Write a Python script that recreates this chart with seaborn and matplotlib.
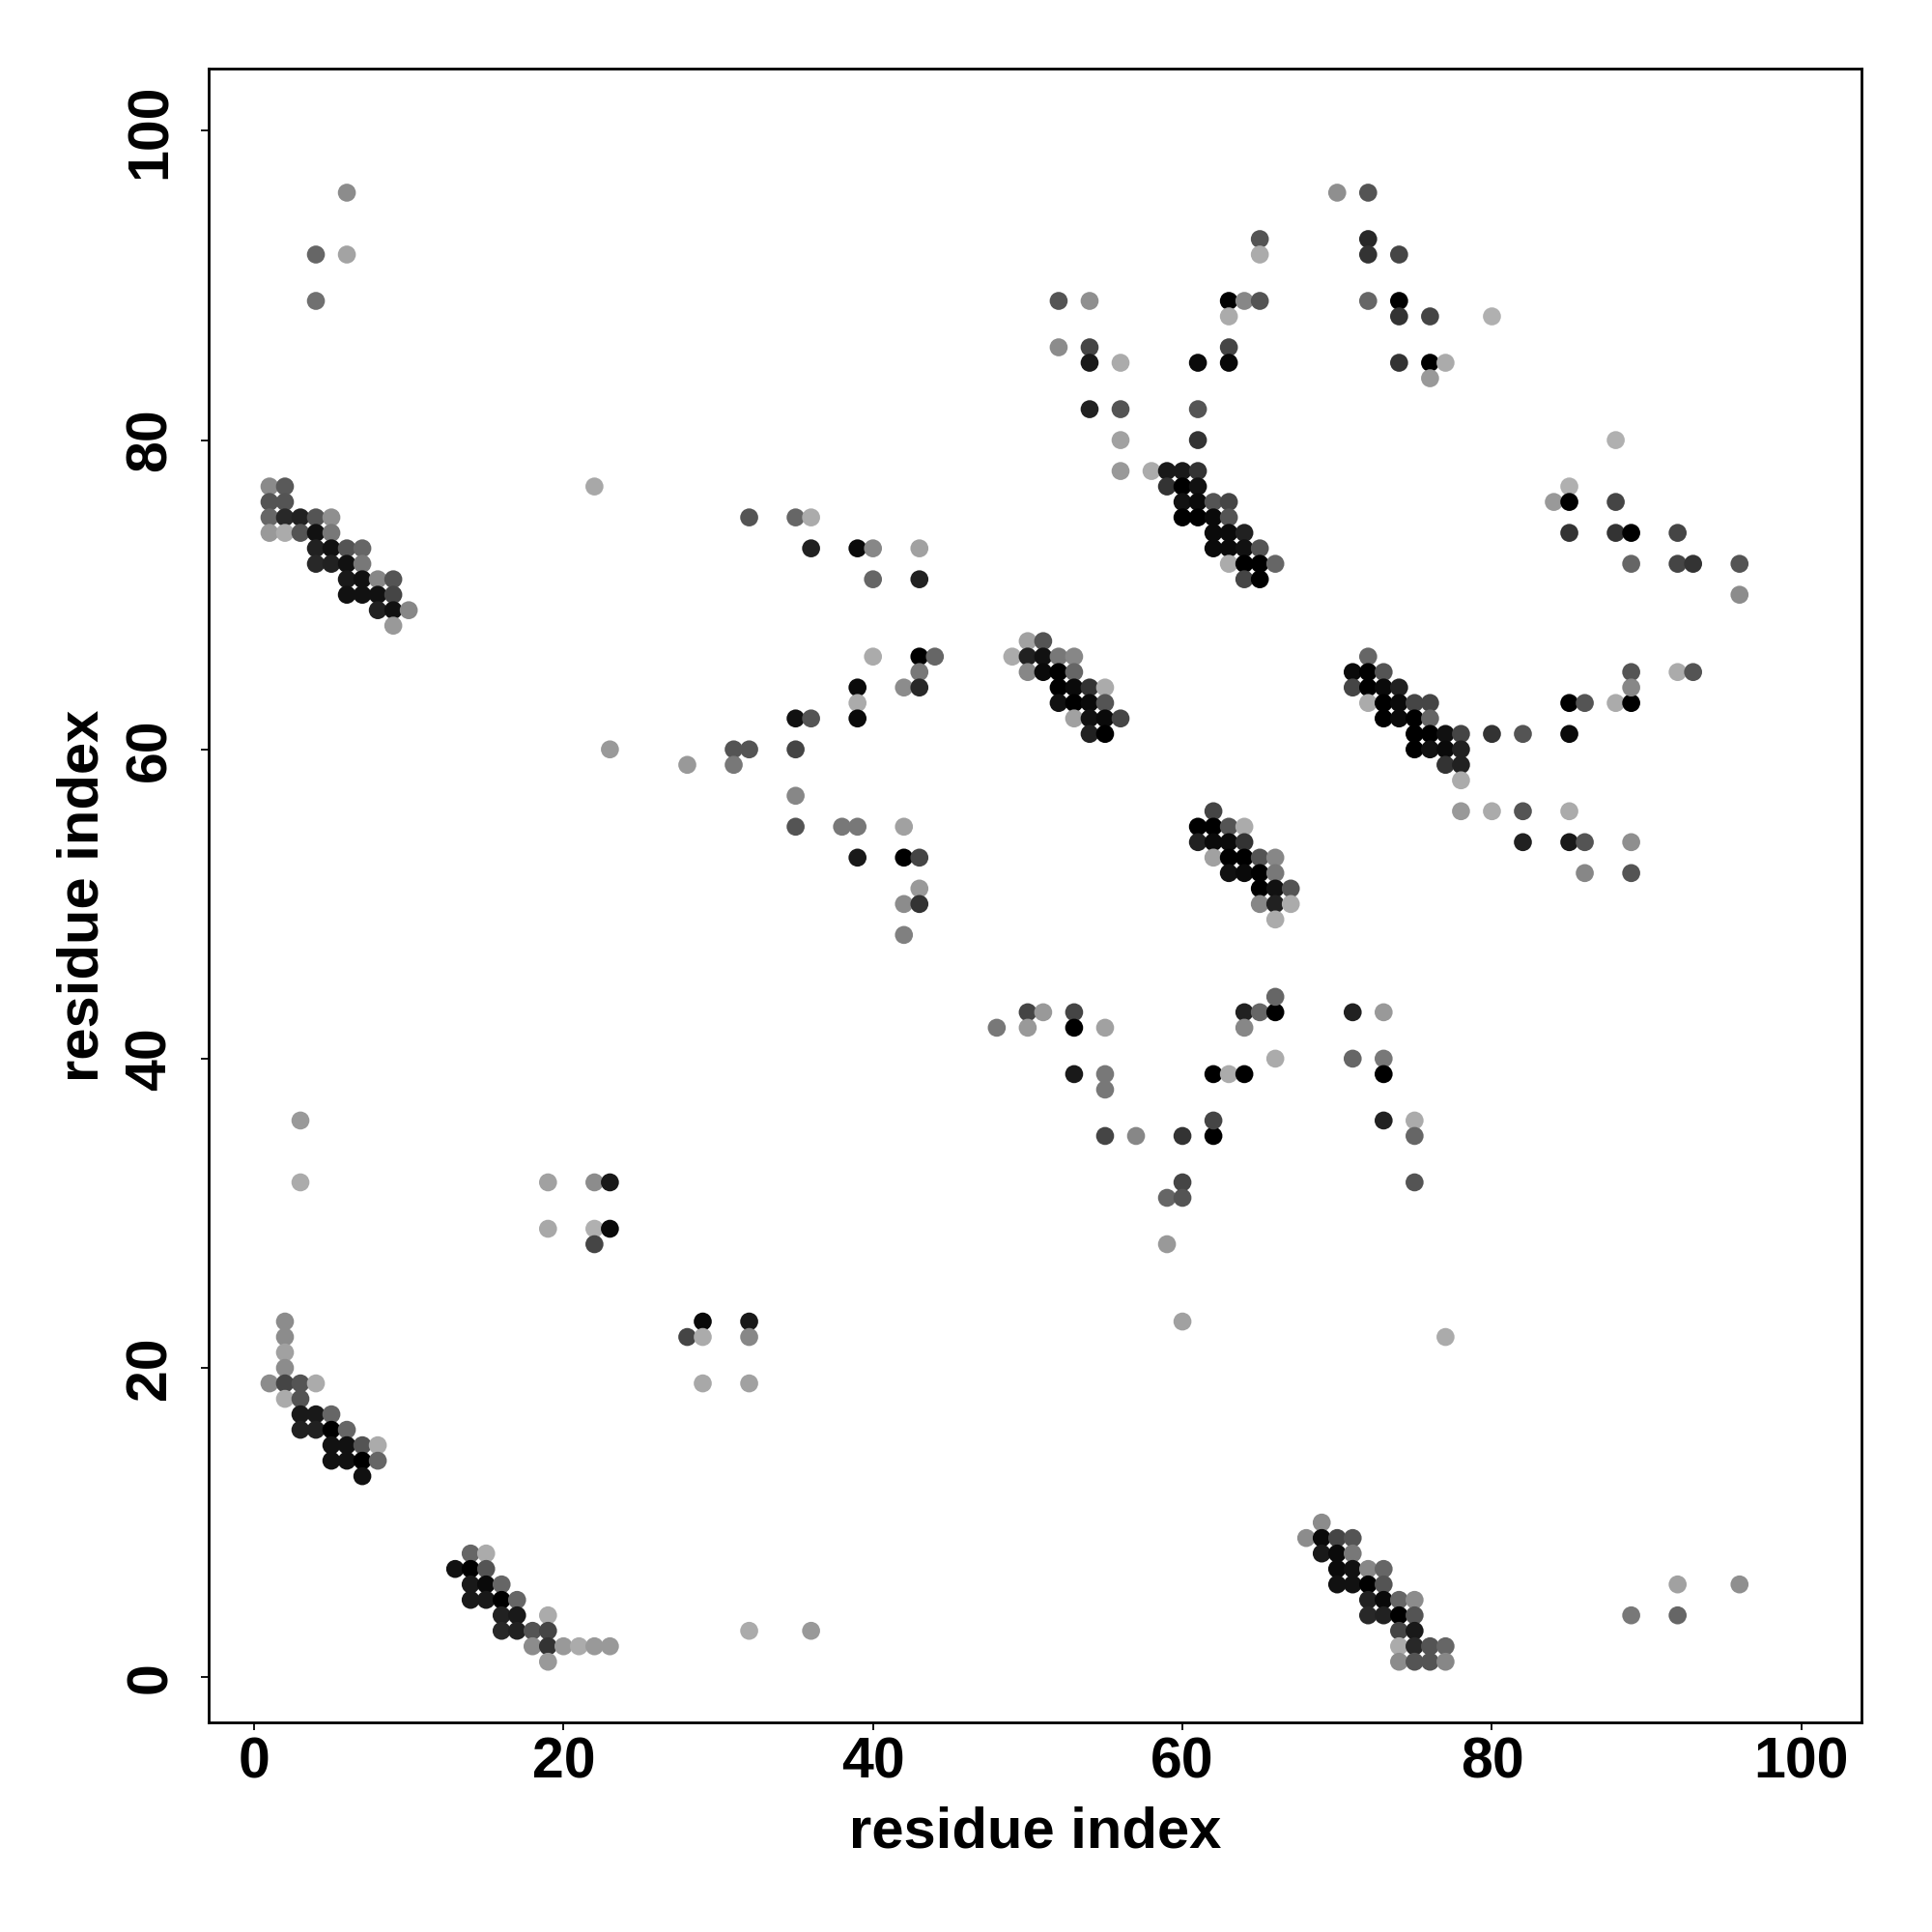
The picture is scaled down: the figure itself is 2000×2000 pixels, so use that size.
import pandas as pd
import numpy as np
import matplotlib
matplotlib.use('Agg')
import matplotlib.pyplot as plt
import seaborn as sns

# contact map: (residue i, residue j, grey level 0=black .. 1=white)

top_left = [(6, 96, .55), (4, 92, .40), (6, 92, .64), (4, 89, .44), (22, 77, .66), (32, 75, .33)]

block_a = [
    (1, 77, .54), (2, 77, .35),
    (1, 76, .33), (2, 76, .33),
    (1, 75, .40), (2, 75, .16), (3, 75, .13), (4, 75, .33), (5, 75, .56),
    (1, 74, .60), (2, 74, .67), (3, 74, .33), (4, 74, .07), (5, 74, .47),
    (4, 73, .13), (5, 73, .07), (6, 73, .33), (7, 73, .40),
    (4, 72, .16), (5, 72, .13), (6, 72, .07), (7, 72, .47),
    (6, 71, .10), (7, 71, .07), (8, 71, .53), (9, 71, .33),
    (6, 70, .07), (7, 70, .07), (8, 70, .07), (9, 70, .27),
    (8, 69, .13), (9, 69, .07), (10, 69, .53),
    (9, 68, .60),
]

upper_mid = [
    (65, 93, .33), (65, 92, .67), (52, 89, .33), (54, 89, .56), (63, 89, .00), (64, 89, .53),
    (65, 89, .33), (63, 88, .67), (52, 86, .55), (54, 86, .27), (54, 85, .10), (56, 85, .67),
    (61, 85, .04), (63, 86, .27), (63, 85, .03), (54, 82, .13), (56, 82, .33), (61, 82, .33),
    (56, 80, .63), (61, 80, .20), (56, 78, .60), (58, 78, .67),
]

block_b = [
    (59, 78, .10), (60, 78, .10), (61, 78, .20),
    (59, 77, .20), (60, 77, .00), (61, 77, .07),
    (60, 76, .07), (61, 76, .04), (62, 76, .33), (63, 76, .27),
    (60, 75, .00), (61, 75, .00), (62, 75, .04), (63, 75, .33),
    (62, 74, .04), (63, 74, .04), (64, 74, .13),
    (62, 73, .04), (63, 73, .04), (64, 73, .07), (65, 73, .33),
    (63, 72, .67), (64, 72, .00), (65, 72, .00), (66, 72, .40),
    (64, 71, .27), (65, 71, .00),
]

mid_left = [
    (35, 75, .40), (36, 75, .67), (36, 73, .13), (39, 73, .04), (40, 73, .53), (43, 73, .63),
    (40, 71, .40), (43, 71, .13), (40, 66, .67), (43, 66, .00), (44, 66, .40), (43, 65, .47),
    (42, 64, .55), (43, 64, .16), (39, 64, .04), (39, 63, .67), (39, 62, .04), (35, 62, .07),
    (36, 62, .33), (32, 60, .33), (35, 60, .27), (35, 57, .53), (35, 55, .33), (38, 55, .47),
    (39, 55, .47), (42, 55, .63), (39, 53, .10), (42, 53, .00), (43, 53, .27), (43, 51, .60),
    (42, 50, .55), (43, 50, .20), (42, 48, .50),
    (23, 60, .60), (28, 59, .60), (31, 60, .33), (31, 59, .47), (3, 36, .60),
]

block_c = [
    (50, 67, .63), (51, 67, .33),
    (49, 66, .67), (50, 66, .13), (51, 66, .07), (52, 66, .47), (53, 66, .53),
    (50, 65, .53), (51, 65, .04), (52, 65, .00), (53, 65, .40),
    (52, 64, .00), (53, 64, .04), (54, 64, .20), (55, 64, .67),
    (52, 63, .07), (53, 63, .00), (54, 63, .04), (55, 63, .33),
    (53, 62, .63), (54, 62, .07), (55, 62, .04), (56, 62, .27),
    (54, 61, .13), (55, 61, .00),
]

block_d = [
    (62, 56, .27),
    (61, 55, .00), (62, 55, .00), (63, 55, .33), (64, 55, .67),
    (61, 54, .13), (62, 54, .04), (63, 54, .04), (64, 54, .20),
    (62, 53, .63), (63, 53, .00), (64, 53, .00), (65, 53, .33), (66, 53, .53),
    (63, 52, .07), (64, 52, .04), (65, 52, .00), (66, 52, .47),
    (65, 51, .00), (66, 51, .07), (67, 51, .33),
    (65, 50, .53), (66, 50, .13), (67, 50, .67),
    (66, 49, .67),
]

lower_mid = [
    (50, 43, .27), (51, 43, .60), (53, 43, .27), (48, 42, .47), (50, 42, .60), (53, 42, .00),
    (55, 42, .63), (53, 39, .10), (55, 39, .47), (55, 38, .47), (55, 35, .27), (57, 35, .53),
    (60, 35, .20), (62, 35, .00), (62, 36, .27), (62, 39, .00), (63, 39, .67), (64, 39, .00),
    (64, 43, .13), (65, 43, .40), (66, 43, .00), (66, 44, .40), (64, 42, .53), (66, 40, .67),
    (71, 43, .13), (73, 43, .60), (71, 40, .40), (73, 40, .47), (73, 39, .00), (73, 36, .13),
    (75, 36, .67), (75, 35, .40), (75, 32, .33), (60, 32, .27), (59, 31, .40), (60, 31, .33),
    (59, 28, .60), (60, 23, .63), (77, 22, .67),
]

block_e = [
    (72, 66, .40),
    (71, 65, .04), (72, 65, .00), (73, 65, .33),
    (71, 64, .27), (72, 64, .00), (73, 64, .04), (74, 64, .13),
    (72, 63, .67), (73, 63, .00), (74, 63, .04), (75, 63, .27), (76, 63, .27),
    (73, 62, .00), (74, 62, .04), (75, 62, .00), (76, 62, .40),
    (75, 61, .00), (76, 61, .00), (77, 61, .07), (78, 61, .27),
    (75, 60, .00), (76, 60, .07), (77, 60, .04), (78, 60, .13),
    (77, 59, .20), (78, 59, .13),
    (78, 58, .67),
]

right_mid = [
    (78, 56, .60), (80, 56, .67), (82, 56, .33), (85, 56, .67), (80, 61, .20), (82, 61, .33),
    (85, 61, .04), (85, 63, .00), (86, 63, .33), (88, 63, .67), (89, 63, .00), (89, 65, .33),
    (89, 64, .53), (92, 65, .67), (93, 65, .33), (82, 54, .13), (85, 54, .10), (86, 54, .33),
    (89, 54, .56), (86, 52, .53), (89, 52, .33),
]

top_right = [
    (70, 96, .56), (72, 96, .33), (72, 93, .16), (72, 92, .20), (74, 92, .27), (72, 89, .40),
    (74, 89, .00), (74, 88, .20), (76, 88, .27), (80, 88, .69), (74, 85, .20), (76, 85, .00),
    (77, 85, .67), (76, 84, .60), (88, 80, .69), (85, 77, .69), (84, 76, .60), (85, 76, .00),
    (88, 76, .27), (85, 74, .20), (88, 74, .20), (89, 74, .00), (92, 74, .27), (89, 72, .40),
    (92, 72, .27), (93, 72, .20), (96, 72, .33), (96, 70, .55),
]

lower_left = [
    (3, 32, .67), (19, 32, .63), (22, 32, .55), (23, 32, .10), (19, 29, .66), (22, 29, .69),
    (23, 29, .04), (22, 28, .27), (29, 23, .04), (32, 23, .10), (28, 22, .27), (29, 22, .67),
    (32, 22, .53), (29, 19, .66), (32, 19, .63), (32, 3, .67), (36, 3, .60),
]

block_f = [
    (2, 23, .55), (2, 22, .55), (2, 21, .63), (2, 20, .55),
    (1, 19, .55), (2, 19, .27), (3, 19, .33), (4, 19, .67),
    (2, 18, .67), (3, 18, .33),
    (3, 17, .10), (4, 17, .10), (5, 17, .40),
    (3, 16, .13), (4, 16, .13), (5, 16, .00), (6, 16, .40),
    (5, 15, .07), (6, 15, .07), (7, 15, .33), (8, 15, .67),
    (5, 14, .07), (6, 14, .07), (7, 14, .00), (8, 14, .40),
    (7, 13, .07),
]

block_g = [
    (14, 8, .40), (15, 8, .67),
    (13, 7, .07), (14, 7, .00), (15, 7, .33),
    (14, 6, .10), (15, 6, .04), (16, 6, .40),
    (14, 5, .10), (15, 5, .10), (16, 5, .00), (17, 5, .40),
    (16, 4, .13), (17, 4, .10), (19, 4, .67),
    (16, 3, .16), (17, 3, .13), (18, 3, .33), (19, 3, .27),
    (18, 2, .55), (19, 2, .20), (20, 2, .60), (21, 2, .67), (22, 2, .60), (23, 2, .60),
    (19, 1, .60),
]

block_h = [
    (69, 10, .55),
    (68, 9, .55), (69, 9, .04), (70, 9, .27), (71, 9, .33),
    (69, 8, .10), (70, 8, .04), (71, 8, .47),
    (70, 7, .04), (71, 7, .07), (72, 7, .53), (73, 7, .40),
    (70, 6, .07), (71, 6, .07), (72, 6, .00), (73, 6, .33),
    (72, 5, .13), (73, 5, .04), (74, 5, .40), (75, 5, .55),
    (72, 4, .16), (73, 4, .13), (74, 4, .00), (75, 4, .33),
    (74, 3, .27), (75, 3, .10),
    (74, 2, .67), (75, 2, .16), (76, 2, .33), (77, 2, .40),
    (74, 1, .55), (75, 1, .33), (76, 1, .33), (77, 1, .53),
]

lower_right = [(92, 6, .63), (96, 6, .56), (89, 4, .47), (92, 4, .40)]

ticks = [0, 20, 40, 60, 80, 100]

blocks = [top_left, block_a, upper_mid, block_b, mid_left, block_c, block_d, lower_mid,
          block_e, right_mid, top_right, lower_left, block_f, block_g, block_h, lower_right]
df = pd.DataFrame([p for b in blocks for p in b], columns=['i', 'j', 'shade'])

sns.set_theme(style='white')
plt.rcParams['font.family'] = ['Liberation Sans', 'DejaVu Sans']
plt.rcParams['font.weight'] = 'bold'
plt.rcParams['text.color'] = 'black'
plt.rcParams['axes.labelcolor'] = 'black'

fig = plt.figure(figsize=(20, 20), dpi=100)
ax = fig.add_axes([215.7 / 2000, 1 - 1783.3 / 2000, (1927.3 - 215.7) / 2000, (1783.3 - 71.4) / 2000])

sns.scatterplot(data=df, x='i', y='j', hue='shade', palette='gray', hue_norm=(0, 1),
                s=180, linewidth=0, legend=False, ax=ax)

ax.set_xlim(-2.95, 103.9)
ax.set_ylim(-2.94, 104.0)
ax.set_xticks(ticks)
ax.set_yticks(ticks)
ax.set_xticklabels([str(t) for t in ticks])
ax.set_yticklabels([str(t) for t in ticks], rotation=90, va='center')

for s in ax.spines.values():
    s.set_visible(True)
    s.set_color('black')
    s.set_linewidth(2.0)

ax.tick_params(axis='both', direction='out', length=6, width=1.3, color='black',
               labelsize=42.5, labelcolor='black')
ax.tick_params(axis='x', pad=4, bottom=True)
ax.tick_params(axis='y', pad=17, left=True)

ax.set_xlabel('residue index', fontsize=43, fontweight='bold', color='black', va='baseline')
ax.xaxis.set_label_coords(0.5, -0.0752)
ax.set_ylabel('residue index', fontsize=43, fontweight='bold', color='black', rotation=90,
              rotation_mode='anchor', ha='center', va='baseline')
ax.yaxis.set_label_coords(-0.0670, 0.5)

fig.savefig('out.png', dpi=100, facecolor='white')
